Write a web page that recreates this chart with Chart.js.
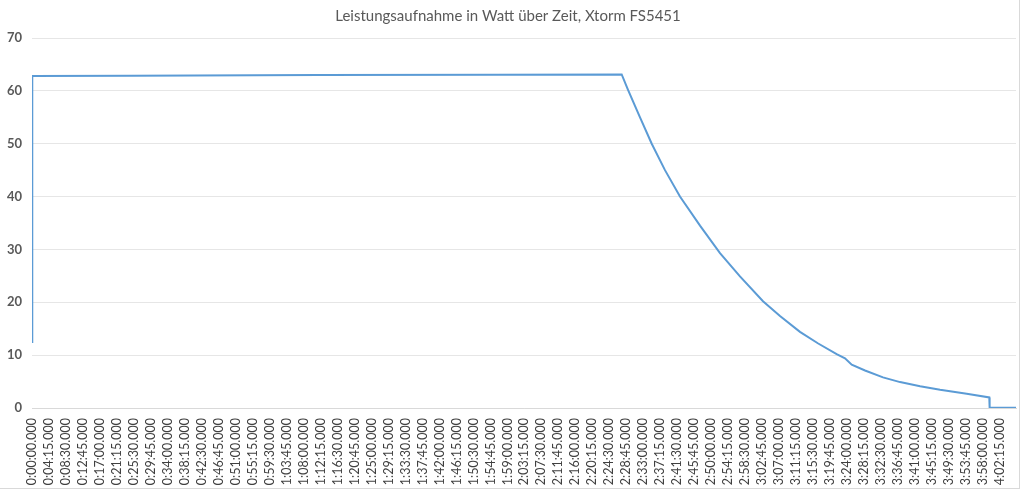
<!DOCTYPE html>
<html>
<head>
<meta charset="utf-8">
<script src="https://cdn.jsdelivr.net/npm/chart.js@4.4.1/dist/chart.umd.min.js"></script>
<style>
  html, body { margin: 0; padding: 0; background: #fff; }
  #wrap { width: 1019px; height: 488px; border-right: 1px solid #d9d9d9; border-bottom: 1px solid #d9d9d9; }
</style>
</head>
<body>
<div id="wrap"><canvas id="chart" width="1019" height="488"></canvas></div>
<script>
// Messzeitpunkte (Sekunden ab Start) und Leistung in Watt
const sampleTimes = [0, 4, 1500, 4300, 7000, 8855, 8950, 9130, 9306, 9505, 9730, 10031, 10331, 10631, 10977, 11232, 11532, 11806, 12083, 12208, 12309, 12509, 12779, 13035, 13336, 13636, 14036, 14375, 14380, 14776];
const watts = [12.5, 62.8, 62.85, 63.0, 63.05, 63.1, 60.2, 55, 50, 45, 40, 34.5, 29.3, 24.9, 20.2, 17.4, 14.4, 12.2, 10.2, 9.4, 8.2, 7.1, 5.8, 4.9, 4.1, 3.45, 2.7, 2.0, 0.05, 0.05];

// Beschriftungen der Zeitachse
const tickLabels = [
    '0:00:00.000', '0:04:15.000', '0:08:30.000', '0:12:45.000', '0:17:00.000', '0:21:15.000',
    '0:25:30.000', '0:29:45.000', '0:34:00.000', '0:38:15.000', '0:42:30.000', '0:46:45.000',
    '0:51:00.000', '0:55:15.000', '0:59:30.000', '1:03:45.000', '1:08:00.000', '1:12:15.000',
    '1:16:30.000', '1:20:45.000', '1:25:00.000', '1:29:15.000', '1:33:30.000', '1:37:45.000',
    '1:42:00.000', '1:46:15.000', '1:50:30.000', '1:54:45.000', '1:59:00.000', '2:03:15.000',
    '2:07:30.000', '2:11:45.000', '2:16:00.000', '2:20:15.000', '2:24:30.000', '2:28:45.000',
    '2:33:00.000', '2:37:15.000', '2:41:30.000', '2:45:45.000', '2:50:00.000', '2:54:15.000',
    '2:58:30.000', '3:02:45.000', '3:07:00.000', '3:11:15.000', '3:15:30.000', '3:19:45.000',
    '3:24:00.000', '3:28:15.000', '3:32:30.000', '3:36:45.000', '3:41:00.000', '3:45:15.000',
    '3:49:30.000', '3:53:45.000', '3:58:00.000', '4:02:15.000'
];
const yTicks = [0, 10, 20, 30, 40, 50, 60, 70];

function toSeconds(label) {
    const p = label.split(':');
    return (+p[0]) * 3600 + (+p[1]) * 60 + parseFloat(p[2]);
}
const tickSeconds = tickLabels.map(toSeconds);

const points = sampleTimes.map((t, i) => ({ x: t, y: watts[i] }));

const config = {
    type: 'line',
    data: {
        datasets: [{
            label: 'Leistung (W)',
            data: points,
            borderColor: '#5b9bd5',
            borderWidth: 2,
            pointRadius: 0,
            tension: 0,
            fill: false
        }]
    },
    options: {
        responsive: false,
        animation: false,
        layout: { padding: { left: 0, right: 3, top: 0, bottom: 0 } },
        plugins: {
            legend: { display: false },
            tooltip: { enabled: false },
            title: {
                display: true,
                text: 'Leistungsaufnahme in Watt über Zeit, Xtorm FS5451',
                color: '#595959',
                font: { family: 'Lato', size: 15, weight: 'normal' },
                padding: { top: 7, bottom: 13 }
            }
        },
        scales: {
            x: {
                type: 'linear',
                min: 0,
                max: 14776,
                grid: { display: false, drawTicks: false },
                border: { display: true, color: '#d9d9d9' },
                afterBuildTicks: (scale) => {
                    scale.ticks = tickSeconds.map(v => ({ value: v }));
                },
                afterFit: (scale) => {
                    scale.height = 80;
                    scale.paddingLeft = 0;
                    scale.paddingRight = 0;
                },
                ticks: {
                    autoSkip: false,
                    maxRotation: 90,
                    minRotation: 90,
                    padding: 10,
                    color: '#404040',
                    font: { family: '"Liberation Sans Narrow", Lato', size: 12.5 },
                    callback: (value) => {
                        const i = tickSeconds.indexOf(value);
                        return i >= 0 ? tickLabels[i] : '';
                    }
                }
            },
            y: {
                min: 0,
                max: 70,
                afterBuildTicks: (scale) => {
                    scale.ticks = yTicks.map(v => ({ value: v }));
                },
                afterFit: (scale) => { scale.width = 32; },
                grid: { color: '#e6e6e6', drawTicks: false },
                border: { display: false },
                ticks: {
                    padding: 10,
                    color: '#595959',
                    font: { family: 'Lato', size: 13, weight: 'bold' }
                }
            }
        }
    }
};

const chart = new Chart(document.getElementById('chart'), config);
</script>
</body>
</html>
